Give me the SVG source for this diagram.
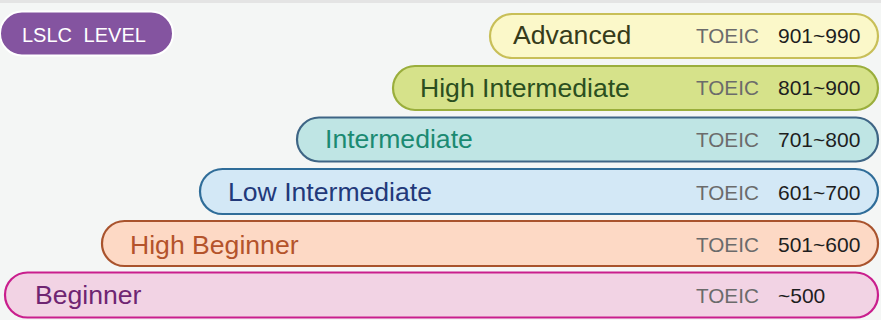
<svg xmlns="http://www.w3.org/2000/svg" width="881" height="320" viewBox="0 0 881 320">
<style>
.pill{stroke-width:2.2}
.lbl{font-family:"Liberation Sans",Arial,sans-serif;font-size:26.6px}
.toeic{font-family:"Liberation Sans",Arial,sans-serif;font-size:20.7px;fill:#6b6b6b}
.num{font-family:"Liberation Sans",Arial,sans-serif;font-size:21px;fill:#1e1e1e}
</style>
<rect x="0" y="0" width="881" height="320" fill="#f4f6f5"/>
<rect x="0" y="0" width="881" height="3" fill="#e4e4e4"/>
<g id="title">
<rect x="0" y="11.5" width="173" height="44" rx="22" fill="#8454a0" stroke="#ffffff" stroke-width="2"/>
<text x="22" y="42" font-family="'Liberation Sans',Arial,sans-serif" font-size="20" fill="#ffffff" word-spacing="6">LSLC LEVEL</text>
</g>
<g id="advanced">
<rect class="pill" x="490" y="14" width="388" height="44" rx="22" fill="#fbf8c9" stroke="#c8bf58"/>
<text class="lbl" x="513" y="44" fill="#363b1a">Advanced</text>
<text class="toeic" x="696" y="43">TOEIC</text>
<text class="num" x="778" y="43">901~990</text>
</g>
<g id="high-intermediate">
<rect class="pill" x="393" y="66" width="485" height="44" rx="22" fill="#d6e28a" stroke="#9aae3c"/>
<text class="lbl" x="420" y="96.5" fill="#2b4f1f">High Intermediate</text>
<text class="toeic" x="696" y="95">TOEIC</text>
<text class="num" x="778" y="95">801~900</text>
</g>
<g id="intermediate">
<rect class="pill" x="297" y="117.5" width="581" height="44" rx="22" fill="#bfe5e4" stroke="#3e6585"/>
<text class="lbl" x="325" y="148" fill="#1b8a72">Intermediate</text>
<text class="toeic" x="696" y="147">TOEIC</text>
<text class="num" x="778" y="147">701~800</text>
</g>
<g id="low-intermediate">
<rect class="pill" x="200" y="169" width="678" height="45" rx="22.5" fill="#d3e8f6" stroke="#2f6d99"/>
<text class="lbl" x="228" y="201" fill="#22397a">Low Intermediate</text>
<text class="toeic" x="696" y="200">TOEIC</text>
<text class="num" x="778" y="200">601~700</text>
</g>
<g id="high-beginner">
<rect class="pill" x="102" y="221" width="776" height="45" rx="22.5" fill="#fdd9c5" stroke="#a9532d"/>
<text class="lbl" x="130" y="253.5" fill="#b4532b">High Beginner</text>
<text class="toeic" x="696" y="252">TOEIC</text>
<text class="num" x="778" y="252">501~600</text>
</g>
<g id="beginner">
<rect class="pill" x="5" y="272.5" width="873" height="45" rx="22.5" fill="#f2d3e4" stroke="#c91f8d"/>
<text class="lbl" x="35" y="304" fill="#6f2572">Beginner</text>
<text class="toeic" x="696" y="303">TOEIC</text>
<text class="num" x="778" y="303">~500</text>
</g>
<g id="connectors"></g>
</svg>
